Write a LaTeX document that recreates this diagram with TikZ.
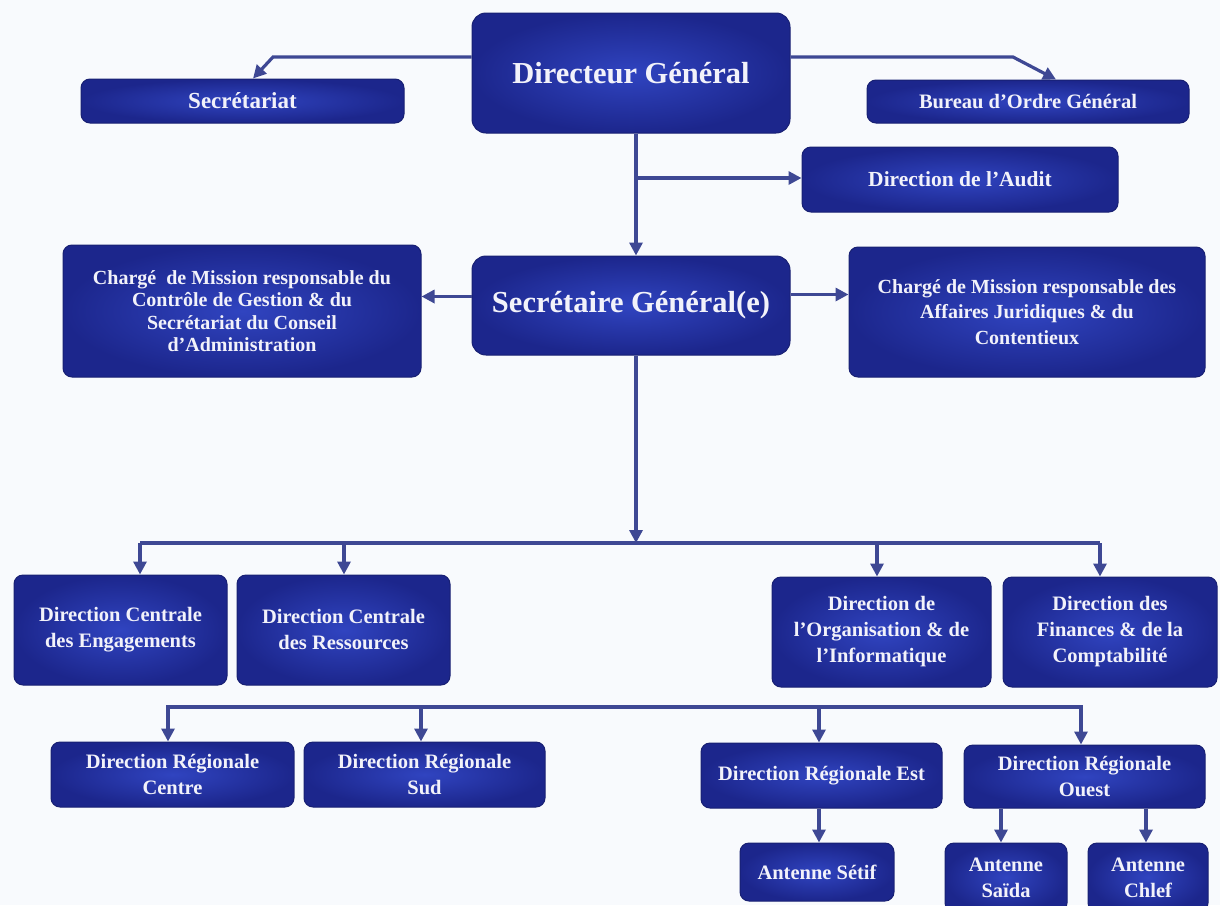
\documentclass[tikz,border=0pt]{standalone}
\usepackage{fontspec}
\setmainfont{Liberation Serif}
\usetikzlibrary{arrows.meta}

\definecolor{paper}{RGB}{248,250,253}
\definecolor{boxhi}{RGB}{48,68,192}
\definecolor{boxlo}{RGB}{28,38,140}
\definecolor{boxedge}{RGB}{24,32,115}
\definecolor{linkcol}{RGB}{62,72,148}
\definecolor{labelcol}{RGB}{242,242,250}

\tikzset{
  unit/.style={draw=boxedge, line width=1pt, rounded corners=9pt,
    inner color=boxhi, outer color=boxlo, text=labelcol,
    font=\bfseries\fontsize{20.5}{26}\selectfont, align=center, inner sep=0pt},
  headunit/.style={unit, rounded corners=14pt, font=\bfseries\fontsize{30.5}{34}\selectfont},
  link/.style={draw=linkcol, line width=3.2pt},
  arr/.style={link, -{Triangle[width=13pt,length=13pt]}},
}

\begin{document}
\begin{tikzpicture}[x=1pt,y=-1pt]
\fill[paper] (0,0) rectangle (1220,905);
\useasboundingbox (0,0) rectangle (1220,905);
\clip (0,0) rectangle (1220,905);

% --- top management
\node[headunit, minimum width=318, minimum height=120] (dg) at (631,73) {Directeur Général};
\node[unit, minimum width=323, minimum height=44, font=\bfseries\fontsize{23}{25}\selectfont] (sec) at (242.5,101) {Secrétariat};
\node[unit, minimum width=322, minimum height=43, font=\bfseries\fontsize{20.5}{22}\selectfont] (bog) at (1028,101.5) {Bureau d’Ordre Général};
\node[unit, minimum width=316, minimum height=65, font=\bfseries\fontsize{21.5}{23}\selectfont] (aud) at (960,179.5) {Direction de l’Audit};
\node[headunit, minimum width=318, minimum height=99] (sg) at (631,305.5) {Secrétaire Général(e)};
\node[unit, minimum width=358, minimum height=132, font=\bfseries\fontsize{20}{22.5}\selectfont] (cml) at (242,311)
  {Chargé\ \ de Mission responsable du\\Contrôle de Gestion \& du\\Secrétariat du Conseil\\d’Administration};
\node[unit, minimum width=356, minimum height=130, font=\bfseries\fontsize{20}{25.5}\selectfont] (cmr) at (1027,312)
  {Chargé de Mission responsable des\\Affaires Juridiques \& du\\Contentieux};

% --- central directions
\node[unit, minimum width=213, minimum height=110] (dce) at (120.5,630) {Direction Centrale\\des Engagements};
\node[unit, minimum width=213, minimum height=110] (dcr) at (343.5,630) {Direction Centrale\\des Ressources};
\node[unit, minimum width=219, minimum height=110] (doi) at (881.5,632) {Direction de\\l’Organisation \& de\\l’Informatique};
\node[unit, minimum width=214, minimum height=110] (dfc) at (1110,632) {Direction des\\Finances \& de la\\Comptabilité};

% --- regional directions
\node[unit, minimum width=243, minimum height=65] (drc) at (172.5,774.5) {Direction Régionale\\Centre};
\node[unit, minimum width=241, minimum height=65] (drs) at (424.5,774.5) {Direction Régionale\\Sud};
\node[unit, minimum width=241, minimum height=65] (dre) at (821.5,775.5) {Direction Régionale Est};
\node[unit, minimum width=241, minimum height=63] (dro) at (1084.5,776.5) {Direction Régionale\\Ouest};

% --- antennas
\node[unit, minimum width=154, minimum height=58] (set) at (817,872) {Antenne Sétif};
\node[unit, minimum width=122, minimum height=69] (sai) at (1006,877.5) {Antenne\\Saïda};
\node[unit, minimum width=120, minimum height=69] (chl) at (1148,877.5) {Antenne\\Chlef};

% --- connectors from the Directeur Général
\coordinate (spine) at (636,0);
\coordinate (secbend) at (273,57);
\coordinate (bogbend) at (1013,57);
\draw[arr] ([yshift=16pt]dg.west) -- (secbend) -- (253,79 |- sec.north);
\draw[arr] ([yshift=16pt]dg.east) -- (bogbend) -- (1056,0 |- bog.north);
\draw[arr] (dg.south -| spine) -- (sg.north -| spine);
\coordinate (audfork) at (636,178);
\draw[arr] (audfork) -- (aud.west |- audfork);

% --- connectors from the Secrétaire Général(e)
\draw[arr] ([yshift=9pt]sg.west) -- ([yshift=9pt]sg.west -| cml.east);
\draw[arr] ([yshift=11pt]sg.east) -- ([yshift=11pt]sg.east -| cmr.west);
\coordinate (cbus) at (636,543);
\draw[arr] (sg.south -| spine) -- (cbus);
\draw[link] (140,543) -- (1100,543);
\foreach \n/\x in {dce/140, dcr/344, doi/877, dfc/1100}
  \draw[arr] (\x,543) -- (\x,0 |- \n.north);

% --- regional bus
\draw[link] (168,707) -- (1081,707);
\foreach \n/\x in {drc/168, drs/421, dre/819, dro/1081}
  \draw[arr] (\x,705.4) -- (\x,0 |- \n.north);

% --- antennas
\draw[arr] (dre.south -| 819,0) -- (set.north -| 819,0);
\draw[arr] (dro.south -| 1001,0) -- (sai.north -| 1001,0);
\draw[arr] (dro.south -| 1146,0) -- (chl.north -| 1146,0);
\end{tikzpicture}
\end{document}
